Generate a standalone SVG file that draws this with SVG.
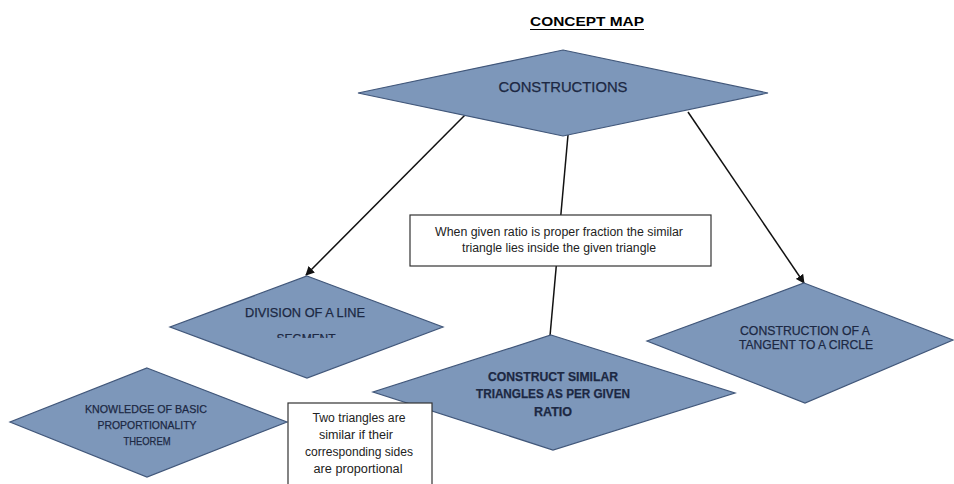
<svg xmlns="http://www.w3.org/2000/svg" width="954" height="484" viewBox="0 0 954 484">
<style>
.dia{fill:#7d97ba;stroke:#41577a;stroke-width:1.2}
.box{fill:#ffffff;stroke:#333333;stroke-width:1.2}
.conn{stroke:#111111;stroke-width:1.5;fill:none}
.dt{font-family:"Liberation Sans",Arial,sans-serif;fill:#1c2843;stroke:#1c2843;stroke-width:0.25;text-anchor:middle}
.bt{font-family:"Liberation Sans",Arial,sans-serif;fill:#222222;text-anchor:middle}
</style>
<defs>
<marker id="arr" viewBox="0 0 10 10" refX="9" refY="5" markerWidth="9" markerHeight="9" orient="auto" markerUnits="userSpaceOnUse">
<path d="M0,0 L10,5 L0,10 z" fill="#111111"/>
</marker>
<clipPath id="segclip"><rect x="150" y="300" width="320" height="38"/></clipPath>
</defs>
<rect width="954" height="484" fill="#ffffff"/>
<g id="title">
<text x="587" y="26" font-family="'Liberation Sans',Arial,sans-serif" font-size="13.5" font-weight="bold" text-anchor="middle" textLength="114" lengthAdjust="spacingAndGlyphs" fill="#000">CONCEPT MAP</text>
<line x1="530" y1="29.5" x2="644" y2="29.5" stroke="#000" stroke-width="1.2"/>
</g>
<g id="connectors">
<line class="conn" x1="465" y1="115" x2="306" y2="275" marker-end="url(#arr)"/>
<line class="conn" x1="568" y1="135" x2="550" y2="336"/>
<line class="conn" x1="688" y1="112" x2="804" y2="283" marker-end="url(#arr)"/>
</g>
<g id="constructions">
<polygon class="dia" points="563,50 768,93 563,136 358,93"/>
<text class="dt" x="563" y="92" font-size="14.5" textLength="129" lengthAdjust="spacingAndGlyphs">CONSTRUCTIONS</text>
</g>
<g id="division">
<polygon class="dia" points="307,276 443,327 307,378 170,327"/>
<text class="dt" x="305" y="317" font-size="13" textLength="120" lengthAdjust="spacingAndGlyphs">DIVISION OF A LINE</text>
<text class="dt" x="306" y="343" font-size="13" textLength="59" lengthAdjust="spacingAndGlyphs" clip-path="url(#segclip)">SEGMENT</text>
</g>
<g id="similar">
<polygon class="dia" points="551,335 735,393 553,450 373,392"/>
<text class="dt" x="553" y="381" font-size="12.5" font-weight="bold" textLength="130" lengthAdjust="spacingAndGlyphs">CONSTRUCT SIMILAR</text>
<text class="dt" x="553" y="398" font-size="12.5" font-weight="bold" textLength="154" lengthAdjust="spacingAndGlyphs">TRIANGLES AS PER GIVEN</text>
<text class="dt" x="553" y="416" font-size="12.5" font-weight="bold" textLength="38" lengthAdjust="spacingAndGlyphs">RATIO</text>
</g>
<g id="tangent">
<polygon class="dia" points="804,283 953,340 805,403 647,341"/>
<text class="dt" x="805" y="335" font-size="13" textLength="130" lengthAdjust="spacingAndGlyphs">CONSTRUCTION OF A</text>
<text class="dt" x="806" y="349" font-size="13" textLength="134" lengthAdjust="spacingAndGlyphs">TANGENT TO A CIRCLE</text>
</g>
<g id="knowledge">
<polygon class="dia" points="147,368 287,422 147,477 10,422"/>
<text class="dt" x="146" y="413" font-size="11.5" textLength="122" lengthAdjust="spacingAndGlyphs">KNOWLEDGE OF BASIC</text>
<text class="dt" x="147" y="429" font-size="11.5" textLength="99" lengthAdjust="spacingAndGlyphs">PROPORTIONALITY</text>
<text class="dt" x="147" y="445" font-size="11.5" textLength="47" lengthAdjust="spacingAndGlyphs">THEOREM</text>
</g>
<g id="ratio-note">
<rect class="box" x="410" y="215" width="301" height="51"/>
<text class="bt" x="559" y="236" font-size="12" textLength="248" lengthAdjust="spacingAndGlyphs">When given ratio is proper fraction the similar</text>
<text class="bt" x="559" y="252" font-size="12" textLength="194" lengthAdjust="spacingAndGlyphs">triangle lies inside the given triangle</text>
</g>
<g id="similar-note">
<rect class="box" x="288" y="403" width="144" height="90"/>
<text class="bt" x="359" y="422" font-size="12.5" textLength="93" lengthAdjust="spacingAndGlyphs">Two triangles are</text>
<text class="bt" x="356" y="439" font-size="12.5" textLength="74" lengthAdjust="spacingAndGlyphs">similar if their</text>
<text class="bt" x="359" y="456" font-size="12.5" textLength="108" lengthAdjust="spacingAndGlyphs">corresponding sides</text>
<text class="bt" x="358" y="473" font-size="12.5" textLength="89" lengthAdjust="spacingAndGlyphs">are proportional</text>
</g>
</svg>
